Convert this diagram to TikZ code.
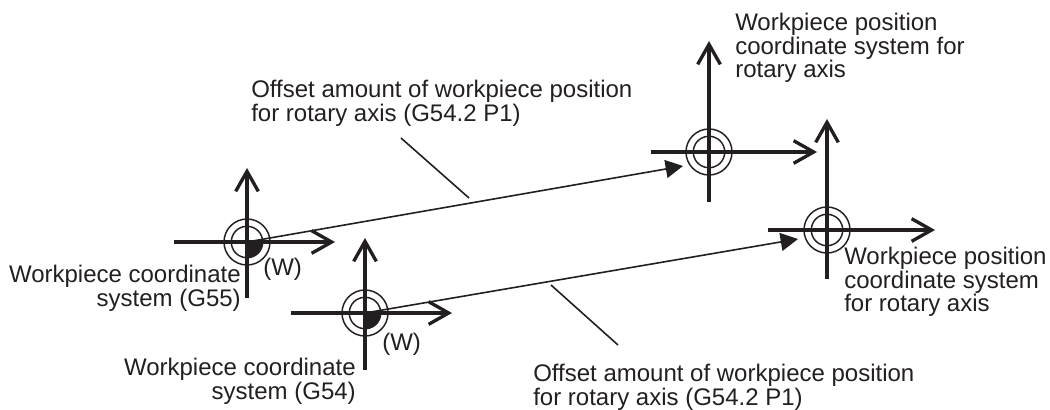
\documentclass[tikz,border=0pt]{standalone}
\usepackage{fontspec}
\setmainfont{Liberation Sans}
\usepackage{tikz}
\usetikzlibrary{arrows.meta,positioning,calc}
\definecolor{inkblack}{HTML}{231F20}

\begin{document}
\begin{tikzpicture}[
    x=0.75pt, y=-0.75pt,
    axisline/.style={line width=2.5pt, inkblack, -{Straight Barb[length=15pt,width=17pt,line width=2.5pt]}},
    ringline/.style={circle, draw=inkblack, line width=1.1pt, inner sep=0pt},
    offsetline/.style={line width=1.2pt, inkblack, -{Triangle[length=13pt,width=13.5pt]}},
    leaderline/.style={line width=1.2pt, inkblack},
    caption/.style={font=\fontsize{18}{17.7}\selectfont, text=inkblack, inner sep=0pt, align=left, anchor=north west},
    captionr/.style={caption, align=right, anchor=north east}
  ]
  \useasboundingbox (0,0) rectangle (1050,410);
  \coordinate (g55) at (247,242);
  \coordinate (g54) at (365,313);
  \coordinate (top) at (709,152);
  \coordinate (rgt) at (827,230);
  % quarter fills on the two workpiece origins
  \foreach \org in {g55,g54}
    \fill[inkblack] (\org) -- ++(16,0) arc[start angle=0, end angle=-90, radius=12pt] -- cycle;
  % axes and rings
  \foreach \org/\l/\r/\u/\d in {g55/73/88/74/56, g54/74/87/75/57, top/58/108/111/50, rgt/59/108/111/49} {
    \node[ringline, minimum size=34.5pt] (\org outer) at (\org) {};
    \node[ringline, minimum size=23.6pt] (\org inner) at (\org) {};
    \coordinate (\org west)  at ($(\org)+(-\l,0)$);
    \coordinate (\org east)  at ($(\org)+(\r,0)$);
    \coordinate (\org north) at ($(\org)+(0,-\u)$);
    \coordinate (\org south) at ($(\org)+(0,\d)$);
    \draw[axisline] (\org west) -- (\org east);
    \draw[axisline] (\org south) -- (\org north);
  }
  % offset arrows
  \coordinate (toptip) at (683,166);
  \coordinate (rgttip) at (798,239);
  \draw[offsetline] (g55) -- (toptip);
  \draw[offsetline] (g54) -- (rgttip);
  % leaders
  \coordinate (lead1a) at (401,138);
  \coordinate (lead1b) at (469,198);
  \coordinate (lead2a) at (618,345);
  \coordinate (lead2b) at (551,285);
  \draw[leaderline] (lead1a) -- (lead1b);
  \draw[leaderline] (lead2a) -- (lead2b);
  % labels
  \node[caption] (offset1) at (251,80) {Offset amount of workpiece position\\for rotary axis (G54.2 P1)};
  \node[caption] (offset2) at (533,364) {Offset amount of workpiece position\\for rotary axis (G54.2 P1)};
  \node[caption] (wprot1) at (735,13) {Workpiece position\\coordinate system for\\rotary axis};
  \node[caption] (wprot2) at (844,247) {Workpiece position\\coordinate system\\for rotary axis};
  \node[captionr] (wcs55) at (241,265) {Workpiece coordinate\\system (G55)};
  \node[captionr] (wcs54) at (356,358) {Workpiece coordinate\\system (G54)};
  \node[caption] (w55) at (263,258) {(W)};
  \node[caption] (w54) at (382,333) {(W)};
\end{tikzpicture}
\end{document}
